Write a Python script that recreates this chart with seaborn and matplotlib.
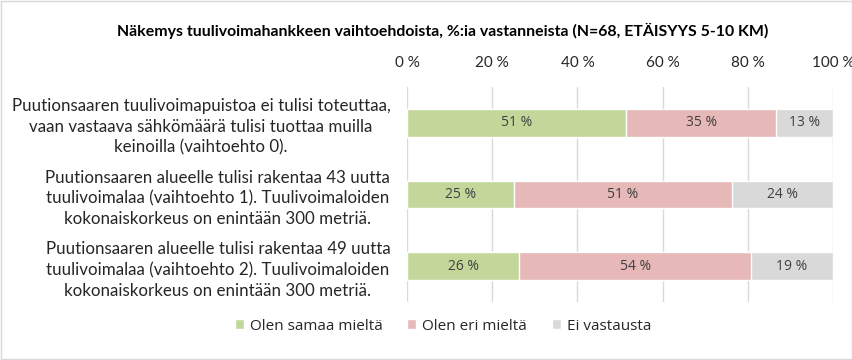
import matplotlib
matplotlib.use("Agg")
import matplotlib.pyplot as plt
import seaborn as sns
import pandas as pd
from matplotlib.patches import Rectangle

sns.set_theme(style="white")
plt.rcParams['font.family'] = ['Lato', 'DejaVu Sans']

title = "Näkemys tuulivoimahankkeen vaihtoehdoista, %:ia vastanneista (N=68, ETÄISYYS 5-10 KM)"
categories = [
    "Puutionsaaren tuulivoimapuistoa ei tulisi toteuttaa,\nvaan vastaava sähkömäärä tulisi tuottaa muilla\nkeinoilla (vaihtoehto 0).",
    "Puutionsaaren alueelle tulisi rakentaa 43 uutta\ntuulivoimalaa (vaihtoehto 1). Tuulivoimaloiden\nkokonaiskorkeus on enintään 300 metriä.",
    "Puutionsaaren alueelle tulisi rakentaa 49 uutta\ntuulivoimalaa (vaihtoehto 2). Tuulivoimaloiden\nkokonaiskorkeus on enintään 300 metriä.",
]
series = ["Olen samaa mieltä", "Olen eri mieltä", "Ei vastausta"]
agree = [51.4, 25.0, 26.4]
disagree = [35.3, 51.2, 54.4]
no_answer = [13.3, 23.8, 19.2]
colors = ["#C4D79B", "#E6B8B7", "#D9D9D9"]
xticks = [0, 20, 40, 60, 80, 100]

df = pd.DataFrame({"cat": categories, "a": agree, "d": disagree, "n": no_answer})
df["cum_a"] = df["a"]
df["cum_d"] = df["a"] + df["d"]
df["cum_n"] = df["a"] + df["d"] + df["n"]

fig = plt.figure(figsize=(8.53, 3.6), dpi=100)
ax = fig.add_axes([407 / 853, 1 - 302 / 360, 426 / 853, 215 / 360])

# stacked bars: draw cumulative totals back to front
for col, color, name in [("cum_n", colors[2], series[2]),
                         ("cum_d", colors[1], series[1]),
                         ("cum_a", colors[0], series[0])]:
    sns.barplot(data=df, x=col, y="cat", orient="h", color=color, width=0.39,
                saturation=1, ax=ax, zorder=2, label=name)

# segment labels
for i, row in df.iterrows():
    starts = [0, row["cum_a"], row["cum_d"]]
    vals = [row["a"], row["d"], row["n"]]
    for s, v in zip(starts, vals):
        ax.text(s + v / 2, i, f"{v:.0f} %", ha="center", va="center",
                fontsize=10, color="#404040", family=["Open Sans", "DejaVu Sans"])

ax.set_xlim(0, 100)
ax.set_ylim(2.5, -0.5)
ax.set_xticks(xticks)
ax.set_xticklabels([f"{t} %" for t in xticks], fontsize=11, color="#262626")
ax.xaxis.tick_top()
ax.tick_params(axis="x", length=0, pad=12)
ax.set_yticks(range(len(categories)))
ax.set_yticklabels(categories, fontsize=12.2, color="#262626",
                   multialignment="center", linespacing=1.35)
ax.tick_params(axis="y", length=0, pad=12)
ax.set_xlabel("")
ax.set_ylabel("")
ax.grid(axis="x", color="#D9D9D9", linewidth=1, zorder=0)
ax.set_axisbelow(True)
for sp in ax.spines.values():
    sp.set_visible(False)

fig.text(443 / 853, 1 - 31 / 360, title, ha="center", va="center",
         fontsize=11.4, fontweight="bold", color="#000000")

handles, labels = ax.get_legend_handles_labels()
order = [labels.index(s) for s in series]
fig.legend([handles[k] for k in order], series, loc="center",
           bbox_to_anchor=(443 / 853, 1 - 326 / 360), ncol=3, frameon=False,
           handlelength=0.6, handleheight=0.6, handletextpad=0.4,
           columnspacing=1.6, prop={"family": ["Open Sans", "DejaVu Sans"], "size": 11})
if ax.get_legend() is not None:
    ax.get_legend().remove()

fig.add_artist(Rectangle((1 / 853, 1 / 360), 851 / 853, 358 / 360, transform=fig.transFigure,
                         fill=False, edgecolor="#D9D9D9", linewidth=1))

fig.savefig("out.png", dpi=100)
